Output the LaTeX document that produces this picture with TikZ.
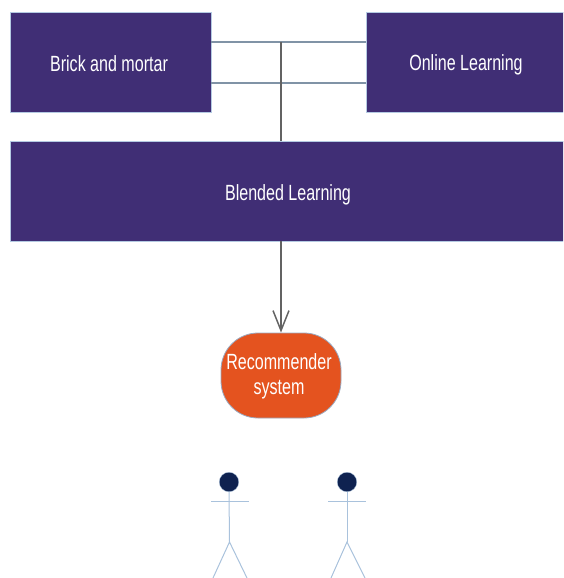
\documentclass[tikz,border=0pt]{standalone}
\usepackage{fontspec}
\setmainfont[FakeStretch=0.73]{Liberation Sans}
\usetikzlibrary{arrows.meta}
\definecolor{boxfill}{HTML}{402E75}
\definecolor{boxline}{HTML}{B4CAE2}
\definecolor{recfill}{HTML}{E4531F}
\definecolor{recline}{HTML}{9AA9C0}
\definecolor{headfill}{HTML}{0F2250}
\definecolor{stickline}{HTML}{A9C2DC}
\definecolor{linkline}{HTML}{8093A6}
\definecolor{trunk}{HTML}{636363}
\tikzset{
  block/.style={rectangle,draw=boxline,line width=0.8pt,fill=boxfill,inner sep=0pt,minimum height=100pt},
  recbox/.style={rectangle,rounded corners=37pt,draw=recline,line width=0.8pt,fill=recfill,inner sep=0pt,minimum width=120pt,minimum height=85pt},
  caption/.style={text=white,font=\fontsize{22}{25}\selectfont,align=center,inner sep=0pt},
  head/.style={circle,fill=headfill,draw=stickline,line width=0.3pt,inner sep=0pt,minimum size=19.5pt},
  link/.style={draw=linkline,line width=1.1pt},
  trunkline/.style={draw=trunk,line width=1.5pt},
  limb/.style={draw=stickline,line width=1pt},
}
\begin{document}
\begin{tikzpicture}[x=1pt,y=-1pt]
\useasboundingbox (0,0) rectangle (563,578);
\clip (0,0) rectangle (563,578);
\node[block,minimum width=201pt] (brick) at (110.5,62) {};
\node[caption] (bricktext) at (109,64) {Brick and mortar};
\node[block,minimum width=200pt] (online) at (466,62) {};
\node[caption] (onlinetext) at (466,65) {Online Learning};
\node[block,minimum width=556pt] (blend) at (288,191) {};
\node[caption] (blendtext) at (288,195) {Blended Learning};
\node[recbox] (rec) at (281,375.5) {};
\node[caption] (rectext) at (279,376) {Recommender\\system};
\coordinate (upper) at (281,42);
\coordinate (lower) at (281,83);
\draw[link] (brick.east |- upper) -- (online.west |- upper);
\draw[link] (brick.east |- lower) -- (online.west |- lower);
\draw[trunkline] (upper) -- (upper |- blend.north);
\draw[trunkline,-{Straight Barb[length=20pt,width=16pt]}] (upper |- blend.south) -- (rec.north);
% left figure
\node[head] (h1) at (229,482) {};
\coordinate (n1) at (229.5,542);
\coordinate (a1l) at (211,501);
\coordinate (a1r) at (249,501);
\coordinate (f1l) at (213,578);
\coordinate (f1r) at (247,578);
\draw[limb] (h1.south) -- (n1);
\draw[limb] (a1l) -- (a1r);
\draw[limb] (f1l) -- (n1) -- (f1r);
% right figure
\node[head] (h2) at (347,482) {};
\coordinate (n2) at (347,542);
\coordinate (a2l) at (328,501);
\coordinate (a2r) at (366,501);
\coordinate (f2l) at (331,578);
\coordinate (f2r) at (365,578);
\draw[limb] (h2.south) -- (n2);
\draw[limb] (a2l) -- (a2r);
\draw[limb] (f2l) -- (n2) -- (f2r);
\end{tikzpicture}
\end{document}
